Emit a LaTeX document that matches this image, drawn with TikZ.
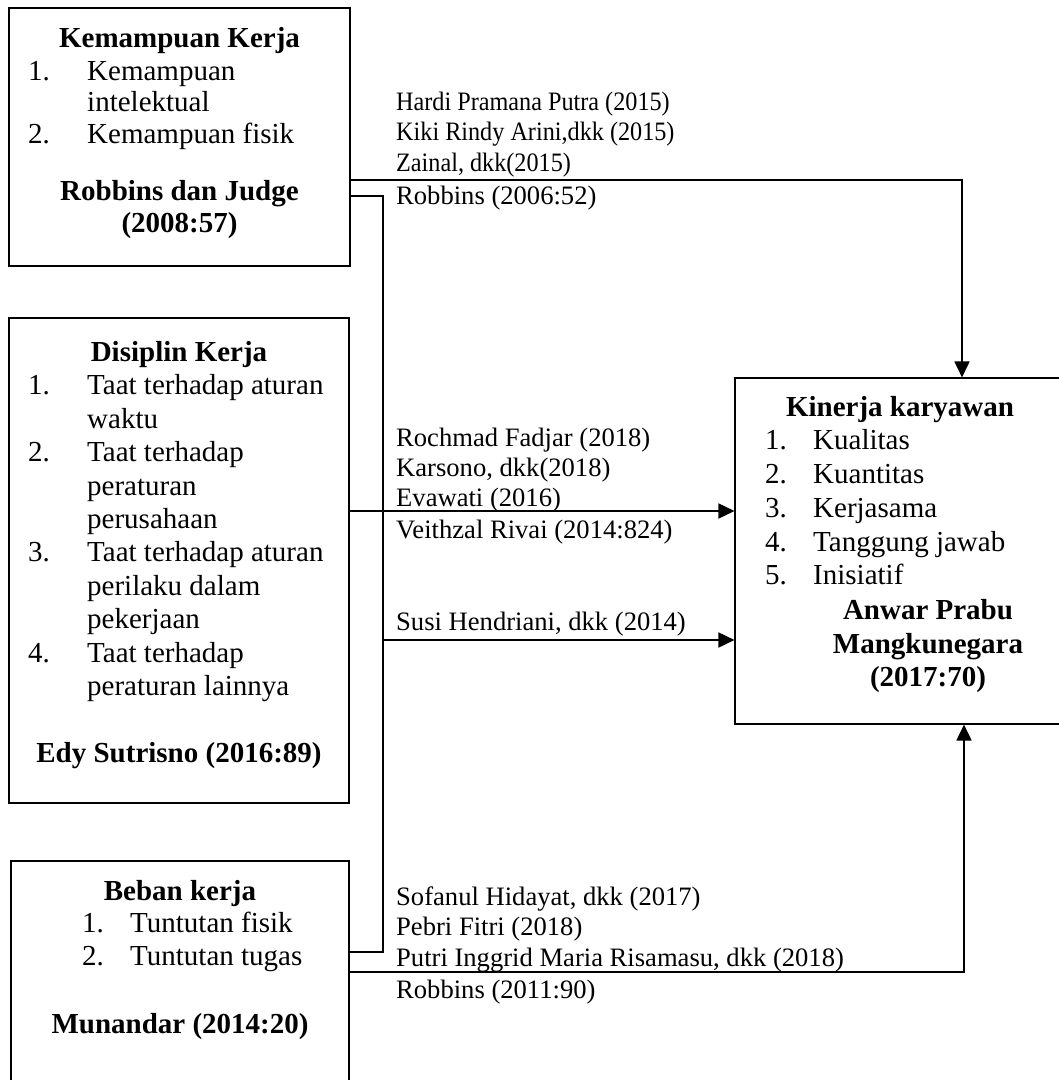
\documentclass[tikz,border=0pt]{standalone}
\usepackage{fontspec}
\setmainfont{Liberation Serif}
\newfontfamily\condf[FakeStretch=0.91]{Liberation Serif}
\usetikzlibrary{arrows.meta}
\newcommand\bxf{\fontsize{29}{33}\selectfont}
\newcommand\ctf{\fontsize{26.6}{30}\selectfont}
\begin{document}
\begin{tikzpicture}[x=1pt,y=-1pt,
  box/.style={draw,line width=1.1pt,rectangle,inner sep=0},
  bx/.style={inner sep=0,text height=23pt,text depth=4pt,font=\bxf},
  bh/.style={bx,font=\bxf\bfseries},
  ct/.style={inner sep=0,text height=21.5pt,text depth=4pt,font=\ctf,anchor=west},
  ctc/.style={ct,font=\ctf\condf},
  conn/.style={line width=1.7pt},
  arr/.style={conn,-{Triangle[length=16pt,width=15pt]}}]
\clip (0,0) rectangle (1059,1080);
\fill[white] (0,0) rectangle (1059,1080);
% boxes
\node[box,minimum width=341pt,minimum height=258pt] (b1) at (179.5,137) {};
\node[box,minimum width=340pt,minimum height=485pt] (b2) at (179,560.5) {};
\node[box,minimum width=338pt,minimum height=260pt] (b3) at (180,991) {};
\node[box,minimum width=360pt,minimum height=346pt] (b4) at (915,551) {};
% box 1
\node[bh] (t1) at (179.5,38) {Kemampuan Kerja};
\node[bx,anchor=west] (n11) at (28,71) {1.};
\node[bx,anchor=west] (i11) at (87,71) {Kemampuan};
\node[bx,anchor=west] (i11b) at (87,102) {intelektual};
\node[bx,anchor=west] (n12) at (28,134) {2.};
\node[bx,anchor=west] (i12) at (87,134) {Kemampuan fisik};
\node[bh] (r1) at (179.5,191) {Robbins dan Judge};
\node[bh] (r1b) at (179.5,223) {(2008:57)};
% box 2
\node[bh] (t2) at (179,352) {Disiplin Kerja};
\node[bx,anchor=west] (n21) at (28,385) {1.};
\node[bx,anchor=west] (i21) at (87,385) {Taat terhadap aturan};
\node[bx,anchor=west] (i21b) at (87,419) {waktu};
\node[bx,anchor=west] (n22) at (28,452) {2.};
\node[bx,anchor=west] (i22) at (87,452) {Taat terhadap};
\node[bx,anchor=west] (i22b) at (87,486) {peraturan};
\node[bx,anchor=west] (i22c) at (87,519) {perusahaan};
\node[bx,anchor=west] (n23) at (28,552) {3.};
\node[bx,anchor=west] (i23) at (87,552) {Taat terhadap aturan};
\node[bx,anchor=west] (i23b) at (87,586) {perilaku dalam};
\node[bx,anchor=west] (i23c) at (87,619) {pekerjaan};
\node[bx,anchor=west] (n24) at (28,653) {4.};
\node[bx,anchor=west] (i24) at (87,653) {Taat terhadap};
\node[bx,anchor=west] (i24b) at (87,686) {peraturan lainnya};
\node[bh] (r2) at (179,753) {Edy Sutrisno (2016:89)};
% box 3
\node[bh] (t3) at (180,891) {Beban kerja};
\node[bx,anchor=west] (n31) at (82,923) {1.};
\node[bx,anchor=west] (i31) at (130,923) {Tuntutan fisik};
\node[bx,anchor=west] (n32) at (82,956) {2.};
\node[bx,anchor=west] (i32) at (130,956) {Tuntutan tugas};
\node[bh] (r3) at (180,1024) {Munandar (2014:20)};
% box 4
\node[bh] (t4) at (900,407) {Kinerja karyawan};
\node[bx,anchor=west] (n41) at (765,440) {1.};
\node[bx,anchor=west] (i41) at (813,440) {Kualitas};
\node[bx,anchor=west] (n42) at (765,474) {2.};
\node[bx,anchor=west] (i42) at (813,474) {Kuantitas};
\node[bx,anchor=west] (n43) at (765,508) {3.};
\node[bx,anchor=west] (i43) at (813,508) {Kerjasama};
\node[bx,anchor=west] (n44) at (765,542) {4.};
\node[bx,anchor=west] (i44) at (813,542) {Tanggung jawab};
\node[bx,anchor=west] (n45) at (765,575) {5.};
\node[bx,anchor=west] (i45) at (813,575) {Inisiatif};
\node[bh] (r4) at (928,610) {Anwar Prabu};
\node[bh] (r4b) at (928,644) {Mangkunegara};
\node[bh] (r4c) at (928,677) {(2017:70)};
% citations
\node[ctc] (c1) at (396,102) {Hardi Pramana Putra (2015)};
\node[ctc] (c2) at (396,132) {Kiki Rindy Arini,dkk (2015)};
\node[ctc] (c3) at (396,163) {Zainal, dkk(2015)};
\node[ct] (c4) at (396,196) {Robbins (2006:52)};
\node[ct] (c5) at (396,438) {Rochmad Fadjar (2018)};
\node[ct] (c6) at (396,468) {Karsono, dkk(2018)};
\node[ct] (c7) at (396,498) {Evawati (2016)};
\node[ct] (c8) at (396,530) {Veithzal Rivai (2014:824)};
\node[ct] (c9) at (396,622) {Susi Hendriani, dkk (2014)};
\node[ct] (c10) at (396,897) {Sofanul Hidayat, dkk (2017)};
\node[ct] (c11) at (396,927) {Pebri Fitri (2018)};
\node[ct] (c12) at (396,958) {Putri Inggrid Maria Risamasu, dkk (2018)};
\node[ct] (c13) at (396,990) {Robbins (2011:90)};
% connectors
\coordinate (k1) at (962,180);
\draw[arr] (b1.east |- k1) -- (k1) -- (k1 |- b4.north);
\coordinate (v1) at (383,196);
\coordinate (v2) at (383,952);
\draw[conn] (b1.east |- v1) -- (v1) -- (v2) -- (b3.east |- v2);
\coordinate (d1) at (600,511);
\draw[arr] (b2.east |- d1) -- (b4.west |- d1);
\coordinate (s1) at (383,640);
\draw[arr] (s1) -- (b4.west |- s1);
\coordinate (k2) at (964,972);
\draw[arr] (b3.east |- k2) -- (k2) -- (k2 |- b4.south);
\end{tikzpicture}
\end{document}
